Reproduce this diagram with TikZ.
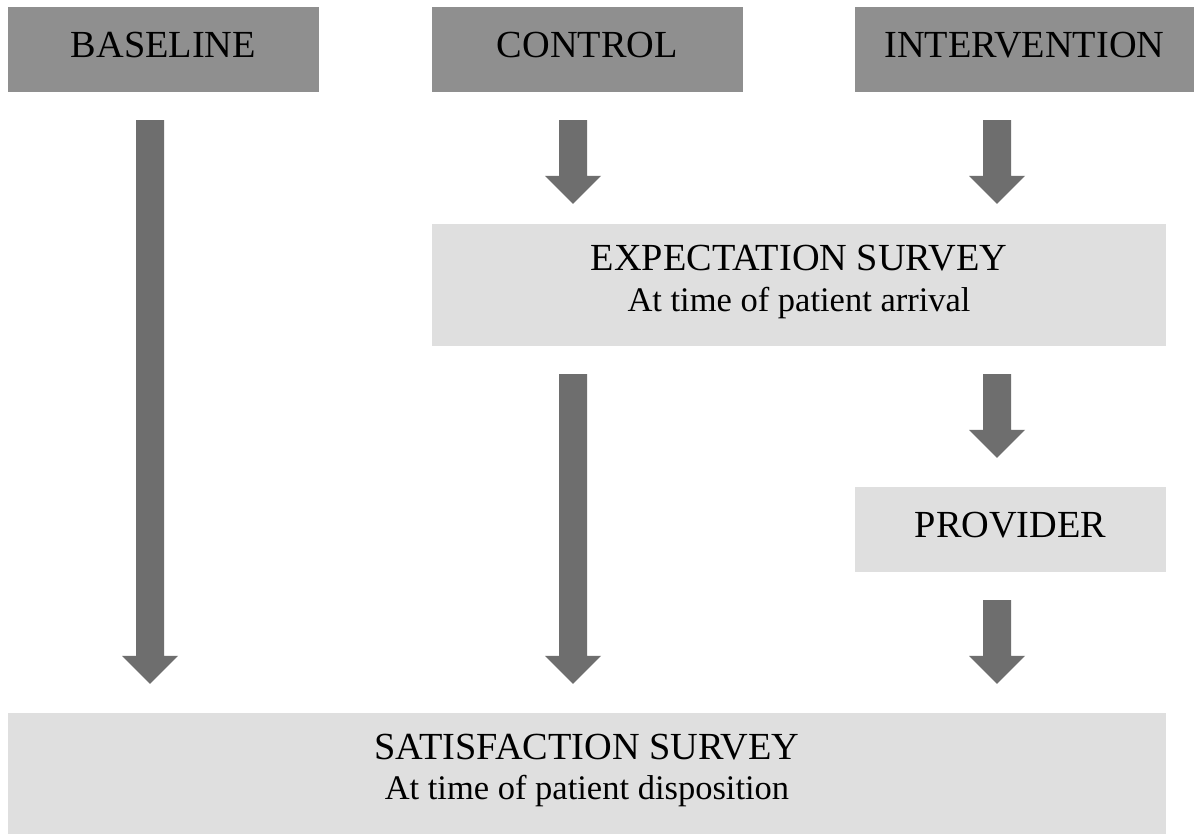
\documentclass[tikz,border=0pt]{standalone}
\usepackage{fontspec}
\setmainfont{Liberation Serif}
\usetikzlibrary{calc}
\definecolor{darkbox}{HTML}{8F8F8F}
\definecolor{lightbox}{HTML}{DFDFDF}
\definecolor{arrowgray}{HTML}{6E6E6E}
\newcommand{\subfont}{\fontsize{34.5}{40.5}\selectfont}
\newcommand{\blockarrow}[2]{%
  \fill[blockfill] ($(#1)+(-14,0)$) -- ($(#1)+(14,0)$) -- ($(#2)+(14,-28)$)
    -- ($(#2)+(28,-28)$) -- (#2) -- ($(#2)+(-28,-28)$) -- ($(#2)+(-14,-28)$) -- cycle;}
\begin{document}
\begin{tikzpicture}[x=1pt,y=-1pt,
  boxbase/.style={draw=none, inner sep=0pt, rectangle, font=\fontsize{38.3}{40.5}\selectfont},
  headbox/.style={boxbase, fill=darkbox, minimum width=311pt, minimum height=85pt, text height=26pt, text depth=10pt},
  providerbox/.style={boxbase, fill=lightbox, minimum width=311pt, minimum height=85pt, text height=26pt, text depth=10pt},
  surveybox/.style={boxbase, fill=lightbox, minimum height=122pt, align=center},
  blockfill/.style={fill=arrowgray}]
\useasboundingbox (0,0) rectangle (1196,834);
\fill[white] (0,0) rectangle (1196,834);
\node[headbox] (baseline) at (163.5,49.5) {BASELINE};
\node[headbox, minimum width=310.5pt] (control) at (587.25,49.5) {CONTROL};
\node[headbox, minimum width=339pt] (interv) at (1024.5,49.5) {INTERVENTION};
\node[surveybox, minimum width=734pt] (expect) at (799,285)
  {\rule{0pt}{30pt}EXPECTATION SURVEY\\{\subfont At time of patient arrival\rule[-18.3pt]{0pt}{18.3pt}}};
\node[providerbox] (provider) at (1010.5,529.5) {PROVIDER};
\node[surveybox, minimum width=1158pt] (satis) at (587,773.5)
  {\rule{0pt}{30pt}SATISFACTION SURVEY\\{\subfont At time of patient disposition\rule[-18.3pt]{0pt}{18.3pt}}};
% arrow end points
\coordinate (a1s) at ($(baseline.south)+(-13.5,28)$);
\coordinate (a1e) at ($(a1s |- satis.north)+(0,-28.5)$);
\coordinate (c1s) at ($(control.south)+(-14.25,28)$);
\coordinate (c1e) at ($(c1s |- expect.north)+(0,-20)$);
\coordinate (i1s) at ($(interv.south)+(-27.5,28)$);
\coordinate (i1e) at ($(i1s |- expect.north)+(0,-20)$);
\coordinate (c2s) at ($(c1s |- expect.south)+(0,28)$);
\coordinate (c2e) at ($(c2s |- satis.north)+(0,-28.5)$);
\coordinate (i2s) at ($(i1s |- expect.south)+(0,28)$);
\coordinate (i2e) at ($(i2s |- provider.north)+(0,-29)$);
\coordinate (i3s) at ($(i1s |- provider.south)+(0,28)$);
\coordinate (i3e) at ($(i3s |- satis.north)+(0,-28.5)$);
\blockarrow{a1s}{a1e}
\blockarrow{c1s}{c1e}
\blockarrow{i1s}{i1e}
\blockarrow{c2s}{c2e}
\blockarrow{i2s}{i2e}
\blockarrow{i3s}{i3e}
\end{tikzpicture}
\end{document}
